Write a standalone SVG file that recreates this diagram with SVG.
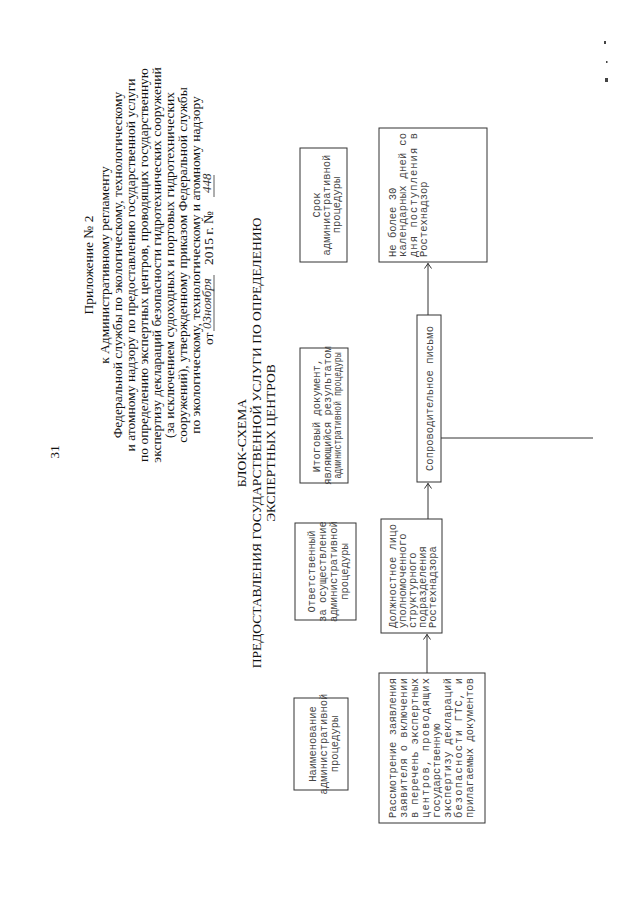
<svg xmlns="http://www.w3.org/2000/svg" width="640" height="905" viewBox="0 0 640 905">
<defs>
<style>
.bg{fill:#ffffff}
.box{fill:none;stroke:#333;stroke-width:1}
.ser{font-family:"Liberation Serif","Times New Roman",serif;fill:#111}
.hd{font-size:13.5px}
.tt{font-size:13.5px}
.mono{font-family:"Liberation Mono","Courier New",monospace;font-size:10.5px;fill:#444}
.c{text-anchor:middle}
.conn{fill:none;stroke:#333;stroke-width:1}
.hand{font-family:"Liberation Serif",serif;font-style:italic;font-size:13px;fill:#333}
.speck{fill:#444}
</style>
<marker id="ah" viewBox="0 0 6 8" refX="6" refY="4" markerWidth="6" markerHeight="8" orient="auto" markerUnits="userSpaceOnUse">
<path d="M0.5,0.5 L5.5,4 L0.5,7.5" fill="none" stroke="#333" stroke-width="1"/>
</marker>
</defs>
<rect class="bg" x="0" y="0" width="640" height="905"/>
<g id="scan-marks">
  <rect class="speck" x="604" y="41" width="2" height="3"/>
  <rect class="speck" x="606" y="61" width="1.5" height="2"/>
  <rect class="speck" x="605" y="78" width="3" height="4"/>
</g>
<g transform="translate(0,905) rotate(-90)">
  <g id="page-number">
    <text class="ser c hd" x="453" y="59">31</text>
  </g>
  <g id="header">
    <text class="ser c hd" x="640" y="92.5">Приложение № 2</text>
    <text class="ser c hd" x="640" y="108.5">к Административному регламенту</text>
    <text class="ser c hd" x="640" y="121.5">Федеральной службы по экологическому, технологическому</text>
    <text class="ser c hd" x="640" y="134.5">и атомному надзору по предоставлению государственной услуги</text>
    <text class="ser c hd" x="640" y="147.5">по определению экспертных центров, проводящих государственную</text>
    <text class="ser c hd" x="640" y="160.5">экспертизу деклараций безопасности гидротехнических сооружений</text>
    <text class="ser c hd" x="640" y="173.5">(за исключением судоходных и портовых гидротехнических</text>
    <text class="ser c hd" x="640" y="186.5">сооружений), утвержденному приказом Федеральной службы</text>
    <text class="ser c hd" x="640" y="199.5">по экологическому, технологическому и атомному надзору</text>
    <g id="date-line">
      <text class="ser hd" x="560" y="212.5">от</text>
      <text class="hand" x="576" y="211">03ноября</text>
      <line x1="574" y1="214" x2="630" y2="214" stroke="#333" stroke-width="0.8"/>
      <text class="ser hd" x="640" y="212.5">2015 г. №</text>
      <text class="hand" x="712" y="211">448</text>
      <line x1="708" y1="214" x2="730" y2="214" stroke="#333" stroke-width="0.8"/>
    </g>
  </g>
  <g id="title">
    <text class="ser c tt" x="462" y="245.5">БЛОК-СХЕМА</text>
    <text class="ser c tt" x="462" y="260.5">ПРЕДОСТАВЛЕНИЯ ГОСУДАРСТВЕННОЙ УСЛУГИ ПО ОПРЕДЕЛЕНИЮ</text>
    <text class="ser c tt" x="462" y="274.5">ЭКСПЕРТНЫХ ЦЕНТРОВ</text>
  </g>
  <g id="head-name">
    <rect class="box" x="115" y="294" width="92" height="54"/>
    <text class="mono c" x="161" y="315.5">Наименование</text>
    <text class="mono c" x="161" y="326.5">административной</text>
    <text class="mono c" x="161" y="337.5">процедуры</text>
  </g>
  <g id="head-resp">
    <rect class="box" x="285" y="295" width="97" height="61"/>
    <text class="mono c" x="333.5" y="314.5">Ответственный</text>
    <text class="mono c" x="333.5" y="325.5">за осуществление</text>
    <text class="mono c" x="333.5" y="336.5">административной</text>
    <text class="mono c" x="333.5" y="347.5">процедуры</text>
  </g>
  <g id="head-result">
    <rect class="box" x="422" y="300" width="135" height="48"/>
    <text class="mono c" x="489.5" y="319.5">Итоговый документ,</text>
    <text class="mono c" x="489.5" y="330.5">являющийся результатом</text>
    <text class="mono c" x="489.5" y="340.5" textLength="126" lengthAdjust="spacingAndGlyphs">административной процедуры</text>
  </g>
  <g id="head-term">
    <rect class="box" x="643" y="300" width="114" height="47"/>
    <text class="mono c" x="700" y="319.5">Срок</text>
    <text class="mono c" x="700" y="329.5">административной</text>
    <text class="mono c" x="700" y="339.5">процедуры</text>
  </g>
  <g id="step-review">
    <rect class="box" x="82" y="379" width="150" height="106"/>
    <text class="mono" x="87" y="395.5" textLength="140" lengthAdjust="spacing">Рассмотрение заявления</text>
    <text class="mono" x="87" y="406.5" textLength="140" lengthAdjust="spacing">заявителя о включении</text>
    <text class="mono" x="87" y="417.5" textLength="140" lengthAdjust="spacing">в перечень экспертных</text>
    <text class="mono" x="87" y="428.5" textLength="140" lengthAdjust="spacing">центров, проводящих</text>
    <text class="mono" x="87" y="439.5">государственную</text>
    <text class="mono" x="87" y="450.5" textLength="140" lengthAdjust="spacing">экспертизу деклараций</text>
    <text class="mono" x="87" y="461.5" textLength="140" lengthAdjust="spacing">безопасности ГТС, и</text>
    <text class="mono" x="87" y="472.5" textLength="140" lengthAdjust="spacing">прилагаемых документов</text>
  </g>
  <g id="step-official">
    <rect class="box" x="272" y="381" width="114" height="61"/>
    <text class="mono" x="277" y="395.5" textLength="104" lengthAdjust="spacing">Должностное лицо</text>
    <text class="mono" x="277" y="405.5">уполномоченного</text>
    <text class="mono" x="277" y="415.5">структурного</text>
    <text class="mono" x="277" y="425.5">подразделения</text>
    <text class="mono" x="277" y="435.5">Ростехнадзора</text>
  </g>
  <g id="step-letter">
    <rect class="box" x="423" y="417" width="167" height="24"/>
    <text class="mono c" x="506.5" y="432.5">Сопроводительное письмо</text>
  </g>
  <g id="step-term">
    <rect class="box" x="643" y="379" width="134" height="108"/>
    <text class="mono" x="648" y="395.5">Не более 30</text>
    <text class="mono" x="648" y="405.5" textLength="124" lengthAdjust="spacing">календарных дней со</text>
    <text class="mono" x="648" y="416.5" textLength="124" lengthAdjust="spacing">дня поступления в</text>
    <text class="mono" x="648" y="426.5">Ростехнадзор</text>
  </g>
  <g id="connectors">
    <line class="conn" x1="232" y1="427" x2="271" y2="427" marker-end="url(#ah)"/>
    <line class="conn" x1="386" y1="428" x2="422" y2="428" marker-end="url(#ah)"/>
    <line class="conn" x1="590" y1="428" x2="642" y2="428" marker-end="url(#ah)"/>
    <line class="conn" x1="467" y1="441" x2="467" y2="593"/>
  </g>
</g>
</svg>
